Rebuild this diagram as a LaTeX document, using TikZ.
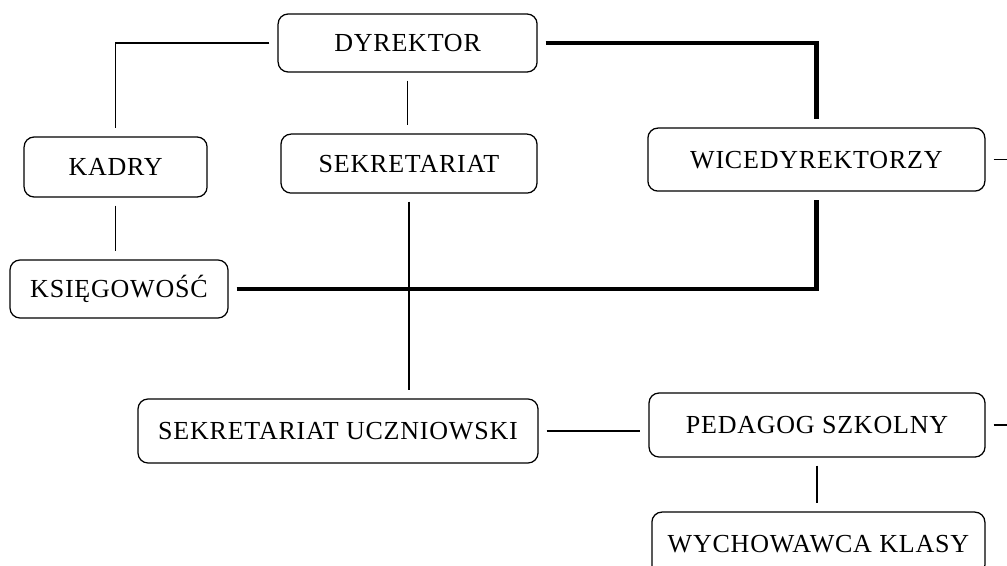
\documentclass[tikz,border=0pt]{standalone}
\usepackage{fontspec}
\setmainfont[LetterSpace=3]{Liberation Serif}
\usetikzlibrary{positioning}

\begin{document}
\begin{tikzpicture}[
    unit/.style={draw, rounded corners=0.25cm, line width=0.9pt, inner sep=0pt,
                 font=\fontsize{18.5}{22}\selectfont},
    thinlink/.style={line width=1pt, shorten <=0.2cm, shorten >=0.2cm},
    thicklink/.style={line width=3.5pt, shorten <=0.2cm, shorten >=0.2cm}]
            \useasboundingbox (0,0) rectangle (25.175,-14.15);
            \clip              (0,0) rectangle (25.175,-14.15);
            \coordinate (edge) at (25.175, 0.00);
            % boxes
            \node[unit, minimum width=6.475cm, minimum height=1.45cm ] (dyr)    at (10.19, -1.075) {DYREKTOR};
            \node[unit, minimum width=4.575cm, minimum height=1.50cm ] (kadry)  at ( 2.89, -4.175) {KADRY};
            \node[unit, minimum width=6.400cm, minimum height=1.475cm] (sek)    at (10.225,-4.09 ) {SEKRETARIAT};
            \node[unit, minimum width=8.425cm, minimum height=1.575cm] (wice)   at (20.41, -3.99 ) {WICEDYREKTORZY};
            \node[unit, minimum width=5.450cm, minimum height=1.45cm ] (ksieg)  at ( 2.975,-7.225) {KSIĘGOWOŚĆ};
            \node[unit, minimum width=10.00cm, minimum height=1.60cm ] (sekucz) at ( 8.45,-10.775) {SEKRETARIAT UCZNIOWSKI};
            \node[unit, minimum width=8.400cm, minimum height=1.60cm ] (ped)    at (20.425,-10.625) {PEDAGOG SZKOLNY};
            \node[unit, minimum width=8.325cm, minimum height=1.575cm] (wych)   at (20.46,-13.59 ) {WYCHOWAWCA KLASY};
            % thin links
            \draw[thinlink] (dyr.west)   -| (kadry.north);
            \draw[thinlink] (dyr.south)  -- (dyr.south |- sek.north);
            \draw[thinlink] (kadry.south)-- (kadry.south |- ksieg.north);
            \draw[thinlink] (sek.south)  -- (sek.south |- sekucz.north);
            \draw[thinlink] (sekucz.east)-- (sekucz.east -| ped.west);
            \draw[thinlink] (ped.south)  -- (ped.south |- wych.north);
            \draw[thinlink, shorten >=0pt] (wice.east) -- (wice.east -| edge);
            \draw[thinlink, shorten >=0pt] (ped.east)  -- (ped.east -| edge);
            % thick links
            \draw[thicklink] (dyr.east)   -| (wice.north);
            \draw[thicklink] (ksieg.east) -| (wice.south);
\end{tikzpicture}
\end{document}
